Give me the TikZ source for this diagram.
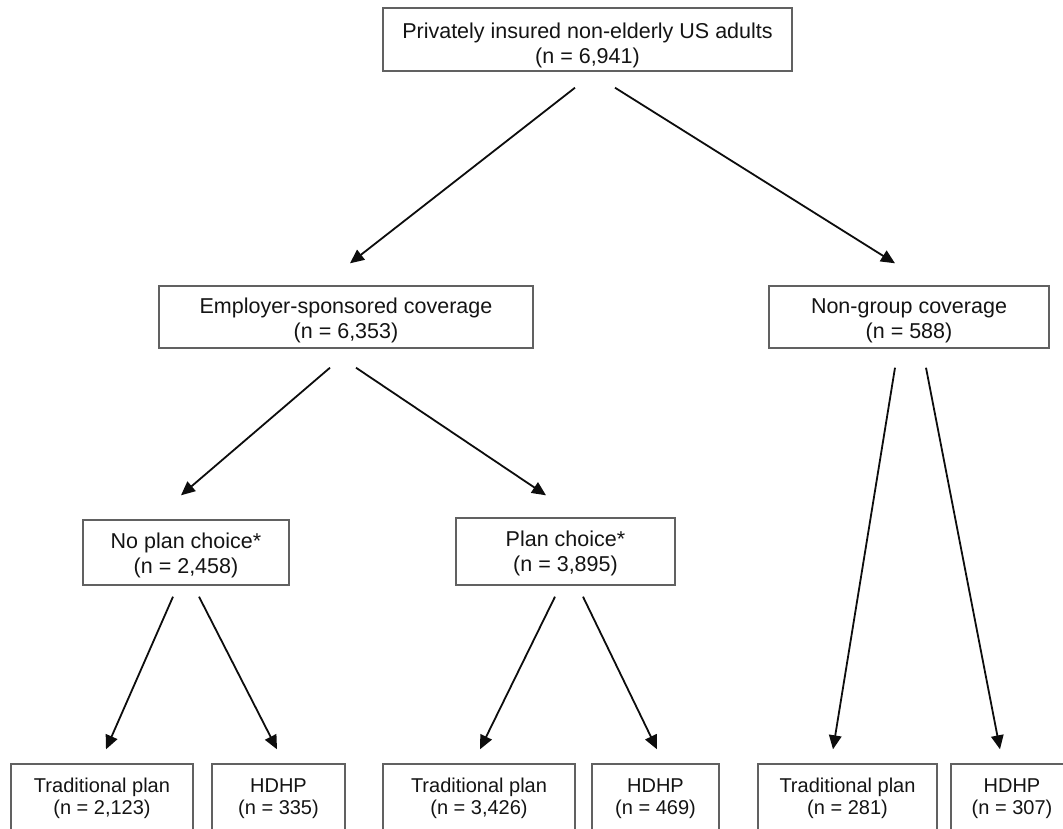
\documentclass[tikz,border=0pt]{standalone}
\usepackage{fontspec}
\setmainfont{Liberation Sans}
\usetikzlibrary{arrows.meta}
\begin{document}
\begin{tikzpicture}[x=1pt,y=-1pt,
  frame/.style={draw=black!62, line width=1.4pt, rectangle, inner sep=0pt},
  upt/.style={inner sep=0pt, align=center, text=black!92, font=\fontsize{21.5}{25}\selectfont},
  lowt/.style={inner sep=0pt, align=center, text=black!92, font=\fontsize{20}{22.5}\selectfont},
  arr/.style={draw=black!95, line width=1.8pt, -{Triangle[length=14pt,width=12.5pt]}}]
\useasboundingbox (0,0) rectangle (1063,828);
\clip (0,0) rectangle (1063,828);
\fill[white] (0,0) rectangle (1063,828);
% level 1
\node[frame, minimum width=409pt, minimum height=63pt] (top) at (587.5,39.5) {};
\node[upt] (topt) at ([yshift=-5.5pt]top.center) {Privately insured non-elderly US adults\\(n = 6,941)};
% level 2
\node[frame, minimum width=374pt, minimum height=62pt] (emp) at (346,317) {};
\node[upt] (empt) at ([yshift=-3.5pt]emp.center) {Employer-sponsored coverage\\(n = 6,353)};
\node[frame, minimum width=280pt, minimum height=62pt] (ng) at (909,317) {};
\node[upt] (ngt) at ([yshift=-3.5pt]ng.center) {Non-group coverage\\(n = 588)};
% level 3
\node[frame, minimum width=206pt, minimum height=65pt] (np) at (186,552.5) {};
\node[upt] (npt) at ([yshift=-2.5pt]np.center) {No plan choice*\\(n = 2,458)};
\node[frame, minimum width=219pt, minimum height=67pt] (pc) at (565.5,551.5) {};
\node[upt] (pct) at ([yshift=-2pt]pc.center) {Plan choice*\\(n = 3,895)};
% level 4
\node[frame, minimum width=182pt, minimum height=66pt] (b1) at (102,797) {};
\node[lowt] (b1t) at ([yshift=-1.5pt]b1.center) {Traditional plan\\(n = 2,123)};
\node[frame, minimum width=133pt, minimum height=66pt] (b2) at (278.5,797) {};
\node[lowt] (b2t) at ([yshift=-1.5pt]b2.center) {HDHP\\(n = 335)};
\node[frame, minimum width=192pt, minimum height=66pt] (b3) at (479,797) {};
\node[lowt] (b3t) at ([yshift=-1.5pt]b3.center) {Traditional plan\\(n = 3,426)};
\node[frame, minimum width=127pt, minimum height=66pt] (b4) at (655.5,797) {};
\node[lowt] (b4t) at ([yshift=-1.5pt]b4.center) {HDHP\\(n = 469)};
\node[frame, minimum width=179pt, minimum height=66pt] (b5) at (847.5,797) {};
\node[lowt] (b5t) at ([yshift=-1.5pt]b5.center) {Traditional plan\\(n = 281)};
\node[frame, minimum width=122pt, minimum height=66pt] (b6) at (1012,797) {};
\node[lowt] (b6t) at ([yshift=-1.5pt]b6.center) {HDHP\\(n = 307)};
% connectors
\draw[arr] ([shift={(-12.5,16)}]top.south) -- ([shift={(4,-22)}]emp.north);
\draw[arr] ([shift={(27.5,16)}]top.south) -- ([shift={(-14,-22)}]ng.north);
\draw[arr] ([shift={(-16,19)}]emp.south) -- ([shift={(-5,-24)}]np.north);
\draw[arr] ([shift={(10,19)}]emp.south) -- ([shift={(-19.5,-22)}]pc.north);
\draw[arr] ([shift={(-14,19)}]ng.south) -- ([shift={(-14.5,-14)}]b5.north);
\draw[arr] ([shift={(17,19)}]ng.south) -- ([shift={(-12,-14)}]b6.north);
\draw[arr] ([shift={(-13,11)}]np.south) -- ([shift={(4,-14)}]b1.north);
\draw[arr] ([shift={(13,11)}]np.south) -- ([shift={(-1.5,-14)}]b2.north);
\draw[arr] ([shift={(-10.5,11)}]pc.south) -- ([shift={(1,-14)}]b3.north);
\draw[arr] ([shift={(17.5,11)}]pc.south) -- ([shift={(1.5,-14)}]b4.north);
\end{tikzpicture}
\end{document}
